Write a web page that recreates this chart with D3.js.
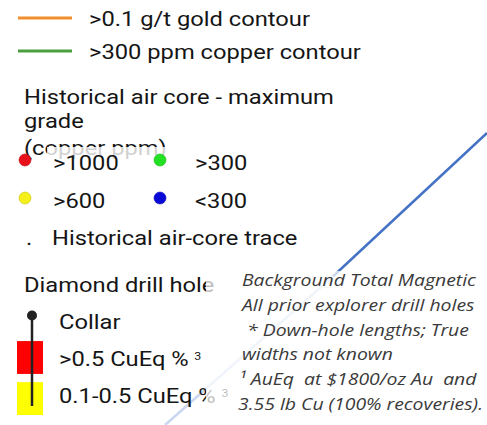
<!DOCTYPE html>
<html>
<head>
<meta charset="utf-8">
<script src="https://cdn.jsdelivr.net/npm/d3@7"></script>
<style>
  body { margin: 0; background: #fff; }
  svg { display: block; }
  .lbl { font-family: Roboto, "Noto Sans", sans-serif; font-size: 21px; fill: #151515; }
  .note { font-family: "Open Sans", sans-serif; font-style: italic; font-size: 17px; fill: #3a3a3a; white-space: pre; }
</style>
</head>
<body>
<div id="chart"></div>
<script>
// legend contents
var contourLabels = [">0.1 g/t gold contour", ">300 ppm copper contour"];
var gradeTitle = ["Historical air core - maximum", "grade", "(copper ppm)"];
var gradeLabels = [">1000", ">300", ">600", "<300"];
var traceLabel = "Historical air-core trace";
var drillTitle = "Diamond drill hole";
var drillLabels = ["Collar", ">0.5 CuEq %", "0.1-0.5 CuEq %"];
var notes = [
  "Background Total Magnetic",
  "All prior explorer drill holes",
  " * Down-hole lengths; True",
  "widths not known",
  "\u00b9 AuEq  at $1800/oz Au  and",
  "3.55 lb Cu (100% recoveries)."
];
// magnetic trend line behind the legend (fraction of the panel)
var trend = [[1.0, 0.313], [0.684, 0.65], [0.339, 1.0]];

var w = 487, h = 425;
var sx = 1.13;      // the legend text is drawn a little wide
var noteSx = 1.14;

var svg = d3.select("#chart").append("svg")
  .attr("width", w)
  .attr("height", h);

function place(x, y, s) {
  return "translate(" + x + "," + y + ") scale(" + s + ",1)";
}

var fx = d3.scaleLinear().domain([0, 1]).range([0, w]);
var fy = d3.scaleLinear().domain([0, 1]).range([0, h]);

// trend line: solid part, then the faded part under the legend boxes
svg.append("path")
  .datum(trend.slice(0, 2))
  .attr("fill", "none")
  .attr("stroke", "#4472c4")
  .attr("stroke-width", 2.5)
  .attr("d", d3.line().x(d => fx(d[0])).y(d => fy(d[1])));
svg.append("path")
  .datum(trend.slice(1))
  .attr("fill", "none")
  .attr("stroke", "#c9d6ef")
  .attr("stroke-width", 2.5)
  .attr("d", d3.line().x(d => fx(d[0])).y(d => fy(d[1])));

// contours
var contourColor = d3.scaleOrdinal().domain(contourLabels).range(["#ef8f2f", "#4c9f3f"]);
var cy = d3.scalePoint().domain(contourLabels).range([18, 51]);

var cg = svg.append("g").selectAll("g")
  .data(contourLabels)
  .enter().append("g")
  .attr("transform", d => "translate(0," + cy(d) + ")");
cg.append("line")
  .attr("x1", 18).attr("x2", 72)
  .attr("stroke", d => contourColor(d))
  .attr("stroke-width", 3);
cg.append("text")
  .attr("class", "lbl")
  .attr("transform", place(89, 8, sx))
  .text(d => d);

// air core title
svg.append("g").selectAll("text")
  .data(gradeTitle)
  .enter().append("text")
  .attr("class", "lbl")
  .attr("transform", (d, i) => place(24, [104, 128, 155][i], sx))
  .text(d => d);

// the dot image box sits over the title text
svg.append("rect")
  .attr("x", 47).attr("y", 147)
  .attr("width", 131).attr("height", 34)
  .attr("fill", "#fff").attr("opacity", 0.8);

var gradeColor = d3.scaleOrdinal().domain(gradeLabels).range(["#e8101a", "#22e022", "#f5f01a", "#0a0ad8"]);
var gx = d3.scaleOrdinal().domain(gradeLabels).range([0, 1, 0, 1]);
var gr = d3.scaleOrdinal().domain(gradeLabels).range([0, 0, 1, 1]);
var colX = d3.scalePoint().domain([0, 1]).range([25, 160]);
var rowY = d3.scalePoint().domain([0, 1]).range([160, 198]);

var dg = svg.append("g").selectAll("g")
  .data(gradeLabels)
  .enter().append("g")
  .attr("transform", d => "translate(" + colX(gx(d)) + "," + rowY(gr(d)) + ")");
dg.append("circle")
  .attr("r", 6)
  .attr("fill", d => gradeColor(d))
  .attr("stroke", d => d3.color(gradeColor(d)).darker(0.6))
  .attr("stroke-width", 0.6);
dg.append("text")
  .attr("class", "lbl")
  .attr("transform", d => place(gx(d) ? 35 : 28, 10, sx))
  .text(d => d);

// trace
svg.append("text").attr("class", "lbl").attr("transform", place(26, 245, sx)).text(".");
svg.append("text").attr("class", "lbl").attr("transform", place(52, 245, sx)).text(traceLabel);

// diamond drill hole
svg.append("text").attr("class", "lbl").attr("transform", place(24, 292, sx)).text(drillTitle);

var dy = d3.scaleBand().domain(drillLabels).range([300, 415]).paddingInner(0.2);
var textY = d3.scalePoint().domain(drillLabels).range([329, 403]);
var drillFill = d3.scaleOrdinal().domain(drillLabels.slice(1)).range(["#ff0000", "#ffff00"]);

svg.append("g").selectAll("rect")
  .data(drillLabels.slice(1))
  .enter().append("rect")
  .attr("x", 17).attr("width", 26)
  .attr("y", d => dy(d))
  .attr("height", dy.bandwidth())
  .attr("fill", d => drillFill(d));

var collarY = dy(drillLabels[0]) + dy.bandwidth() / 2 - 1;
svg.append("line")
  .attr("x1", 32).attr("x2", 32)
  .attr("y1", collarY)
  .attr("y2", dy(drillLabels[2]) + dy.bandwidth() - 9)
  .attr("stroke", "#222").attr("stroke-width", 2.5);
svg.append("circle")
  .attr("cx", 32).attr("cy", collarY).attr("r", 5)
  .attr("fill", "#222");

var dt = svg.append("g").selectAll("text")
  .data(drillLabels)
  .enter().append("text")
  .attr("class", "lbl")
  .attr("transform", d => place(59, textY(d), sx));
dt.append("tspan").text(d => d);
dt.filter((d, i) => i > 0).append("tspan")
  .attr("dx", 5).attr("dy", -6)
  .style("font-size", "11px")
  .text("3");

// notes box fades what is under it
svg.append("rect")
  .attr("x", 206).attr("y", 271)
  .attr("width", 281).attr("height", 154)
  .attr("fill", "#fff").attr("opacity", 0.72);

svg.append("g").selectAll("text")
  .data(notes)
  .enter().append("text")
  .attr("class", "note")
  .attr("xml:space", "preserve")
  .attr("transform", (d, i) => place(i == 4 ? 239 : (i == 5 ? 238 : 242), 286 + i * 24.8, noteSx))
  .text(d => d);
</script>
</body>
</html>
